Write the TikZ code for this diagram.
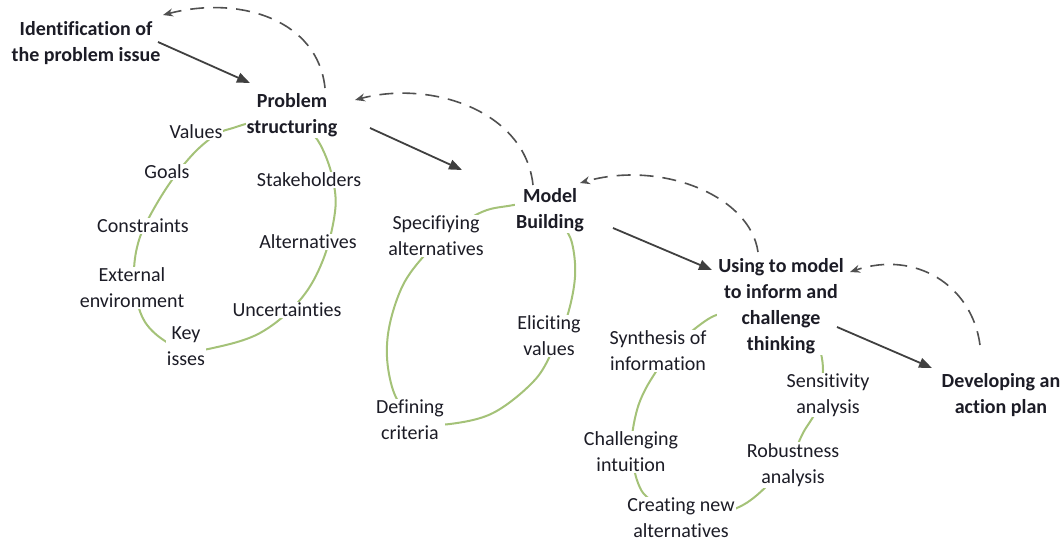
\documentclass[tikz,border=0pt]{standalone}
\usepackage{fontspec}
\setmainfont{Carlito}[Ligatures={NoCommon,NoDiscretionary,NoContextual}]
\usetikzlibrary{arrows.meta,calc}
\definecolor{loopgreen}{RGB}{164,194,120}
\definecolor{inkdark}{RGB}{28,28,38}
\definecolor{arrowgray}{RGB}{64,64,64}
\definecolor{dashgray}{RGB}{80,80,80}
\begin{document}
\begin{tikzpicture}[x=1pt,y=-1pt,
  stage/.style={font=\fontsize{20}{26}\selectfont\bfseries, text=inkdark, align=center, fill=white, inner sep=1pt},
  item/.style={font=\fontsize{20}{26}\selectfont, text=inkdark, align=center, fill=white, inner sep=1pt},
  loop/.style={draw=loopgreen, line width=2pt},
  flow/.style={draw=arrowgray, line width=1.8pt, -{Triangle[length=13pt,width=10pt]}},
  back/.style={draw=dashgray, line width=1.6pt, dash pattern=on 14pt off 9pt, -{Stealth[length=10pt,width=8pt]}}]
\useasboundingbox (0,0) rectangle (1063,541);

% cycle around problem structuring
\draw[loop] plot[smooth cycle, tension=0.6] coordinates {
  (233,128) (217,134) (195,152) (172,180) (152,212) (139,240) (134,270)
  (137,300) (145,322) (162,339) (185,350) (213,348) (260,333) (300,300)
  (323,260) (335,212) (333,180) (323,150) (310,132) (285,121) (255,122)};
% cycle around model building
\draw[loop] plot[smooth cycle, tension=0.6] coordinates {
  (508,206) (487,210) (467,220) (445,236) (423,257) (403,285) (390,323)
  (387,357) (393,390) (405,410) (425,422) (450,424) (493,413) (533,382)
  (552,352) (567,317) (575,277) (572,243) (562,225) (545,208) (525,204)};
% cycle around using the model
\draw[loop] plot[smooth cycle, tension=0.6] coordinates {
  (710,318) (687,335) (670,350) (657,370) (645,390) (637,410) (632,437)
  (633,462) (638,483) (647,497) (670,510) (710,515) (743,505) (770,483)
  (790,460) (803,433) (817,408) (823,370) (817,340) (806,322) (785,312)
  (750,310) (728,312)};

% main stages
\node[stage] (id)  at (86,43)   {Identification of\\the problem issue};
\node[stage] (ps)  at (292,115) {Problem\\structuring};
\node[stage] (mb)  at (550,210) {Model\\Building};
\node[stage] (use) at (781,306) {Using to model\\to inform and\\challenge\\thinking};
\node[stage] (dev) at (1001,395) {Developing an\\action plan};

% problem structuring items
\node[item] (values) at (196,132) {Values};
\node[item] (goals)  at (167,172) {Goals};
\node[item] (constr) at (143,226) {Constraints};
\node[item] (extenv) at (132,288) {External\\environment};
\node[item] (keyiss) at (186,346) {Key\\isses};
\node[item] (stake)  at (309,180) {Stakeholders};
\node[item] (altern) at (308,242) {Alternatives};
\node[item] (uncert) at (287,310) {Uncertainties};

% model building items
\node[item] (specalt) at (436,236) {Specifiying\\alternatives};
\node[item] (elicit)  at (549,336) {Eliciting\\values};
\node[item] (defcrit) at (410,420) {Defining\\criteria};

% using the model items
\node[item] (synth)  at (658,351) {Synthesis of\\information};
\node[item] (chall)  at (631,452) {Challenging\\intuition};
\node[item] (create) at (681,518) {Creating new\\alternatives};
\node[item] (sens)   at (828,395) {Sensitivity\\analysis};
\node[item] (robust) at (793,465) {Robustness\\analysis};

% forward flow
\draw[flow] ($(id)+(72,-1)$) -- ($(ps)+(-42,-32)$);
\draw[flow] ($(ps)+(78,13)$) -- ($(mb)+(-88,-40)$);
\draw[flow] ($(mb)+(63,18)$) -- ($(use)+(-69,-36)$);
\draw[flow] ($(use)+(56,21)$) -- ($(dev)+(-69,-27)$);

% feedback loops
\draw[back] ($(ps)+(33,-27)$) .. controls (318,20) and (240,-5) .. ($(id)+(77,-28)$);
\draw[back] ($(mb)+(-17,-25)$) .. controls (525,110) and (430,80) .. ($(ps)+(63,-15)$);
\draw[back] ($(use)+(-23,-54)$) .. controls (750,195) and (660,160) .. ($(mb)+(30,-27)$);
\draw[back] ($(dev)+(-21,-50)$) .. controls (972,285) and (915,250) .. ($(use)+(69,-34)$);
\end{tikzpicture}
\end{document}
